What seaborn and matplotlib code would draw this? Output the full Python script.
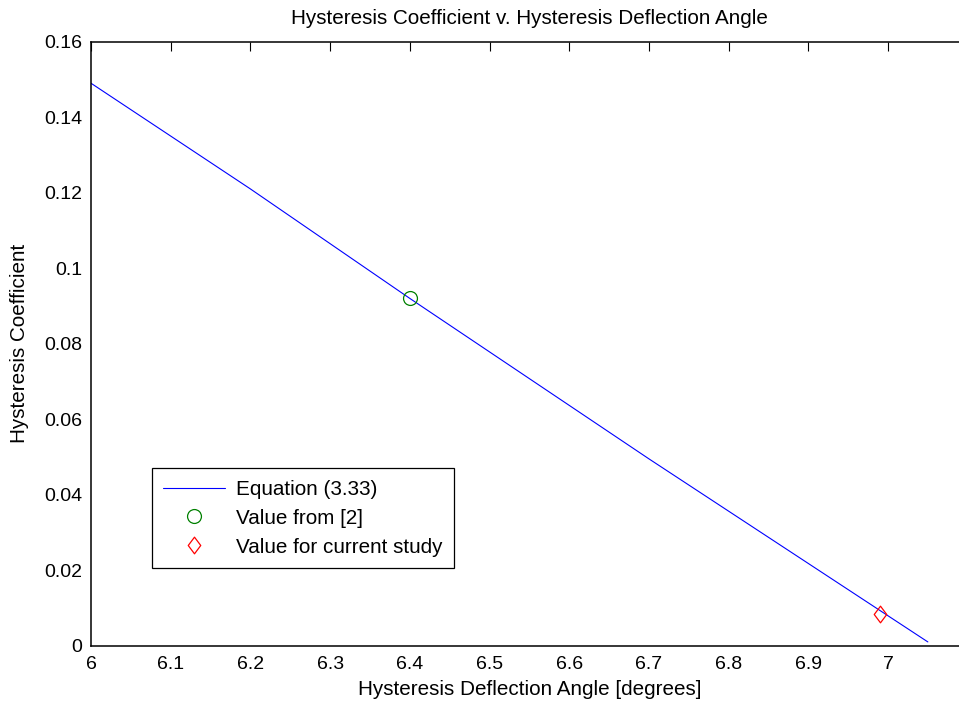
import matplotlib
matplotlib.use("Agg")
import matplotlib.pyplot as plt
from matplotlib.path import Path
import seaborn as sns
import pandas as pd

# Curve of Equation (3.33)
angle_deg = [6.0, 6.2, 6.4, 6.7, 7.05]
coeff = [0.149, 0.121, 0.092, 0.0495, 0.001]

# Reference values
ref_angle = [6.4]
ref_coeff = [0.092]
study_angle = [6.99]
study_coeff = [0.0085]

x_ticks = [6.0, 6.1, 6.2, 6.3, 6.4, 6.5, 6.6, 6.7, 6.8, 6.9, 7.0]
x_tick_labels = ["6", "6.1", "6.2", "6.3", "6.4", "6.5", "6.6", "6.7", "6.8", "6.9", "7"]
y_ticks = [0, 0.02, 0.04, 0.06, 0.08, 0.1, 0.12, 0.14, 0.16]
y_tick_labels = ["0", "0.02", "0.04", "0.06", "0.08", "0.1", "0.12", "0.14", "0.16"]

sns.set_theme(style="white")
plt.rcParams["font.family"] = ["Liberation Sans", "DejaVu Sans"]

TXT = 14.9
TICK = 14.0

fig = plt.figure(figsize=(9.59, 7.02), dpi=100)
fig.patch.set_facecolor("white")
ax = fig.add_axes([91 / 959, 56.3 / 702, (967.7 - 91) / 959, (645.7 - 41.7) / 702])
ax.set_facecolor("white")

curve = pd.DataFrame({"angle": angle_deg, "coeff": coeff})
sns.lineplot(data=curve, x="angle", y="coeff", ax=ax, color=(0, 0, 1),
             linewidth=0.8, label="Equation (3.33)", sort=False)

ax.plot(ref_angle, ref_coeff, linestyle="none", marker="o", markersize=10,
        markerfacecolor="none", markeredgecolor=(0, 0.5, 0), markeredgewidth=0.9,
        label="Value from [2]")

diamond = Path([(0, 1), (0.75, 0), (0, -1), (-0.75, 0), (0, 1)],
               [Path.MOVETO, Path.LINETO, Path.LINETO, Path.LINETO, Path.CLOSEPOLY])
ax.plot(study_angle, study_coeff, linestyle="none", marker=diamond, markersize=12,
        markerfacecolor="none", markeredgecolor=(1, 0, 0), markeredgewidth=0.9,
        label="Value for current study")

ax.set_xlim(6.0, 7.1)
ax.set_ylim(0, 0.16)
ax.set_xticks(x_ticks)
ax.set_xticklabels(x_tick_labels)
ax.set_yticks(y_ticks)
ax.set_yticklabels(y_tick_labels)

for side in ["top", "bottom", "left", "right"]:
    ax.spines[side].set_visible(True)
    ax.spines[side].set_color("black")
    ax.spines[side].set_linewidth(1.1)

ax.tick_params(axis="both", which="major", direction="in", length=6.3, width=0.8,
               colors="black", labelsize=TICK, top=True, right=True)
ax.tick_params(axis="x", pad=7.5)
ax.tick_params(axis="y", pad=6.5)

ax.set_title("Hysteresis Coefficient v. Hysteresis Deflection Angle",
             fontsize=TXT, pad=12.5, color="black")
ax.set_xlabel("Hysteresis Deflection Angle [degrees]", fontsize=TXT, labelpad=5, color="black")
ax.set_ylabel("Hysteresis Coefficient", fontsize=TXT, labelpad=11, color="black")

leg = ax.legend(loc="lower left", bbox_to_anchor=(152 / 959, (702 - 568) / 702),
                bbox_transform=fig.transFigure, borderaxespad=0, fontsize=TXT,
                frameon=True, fancybox=False, shadow=False, framealpha=1,
                handlelength=3.0, handletextpad=0.5, borderpad=0.55, labelspacing=0.48)
leg.get_frame().set_edgecolor("black")
leg.get_frame().set_linewidth(0.9)
for t in leg.get_texts():
    t.set_color("black")

fig.savefig("out.png", dpi=100, facecolor="white")
